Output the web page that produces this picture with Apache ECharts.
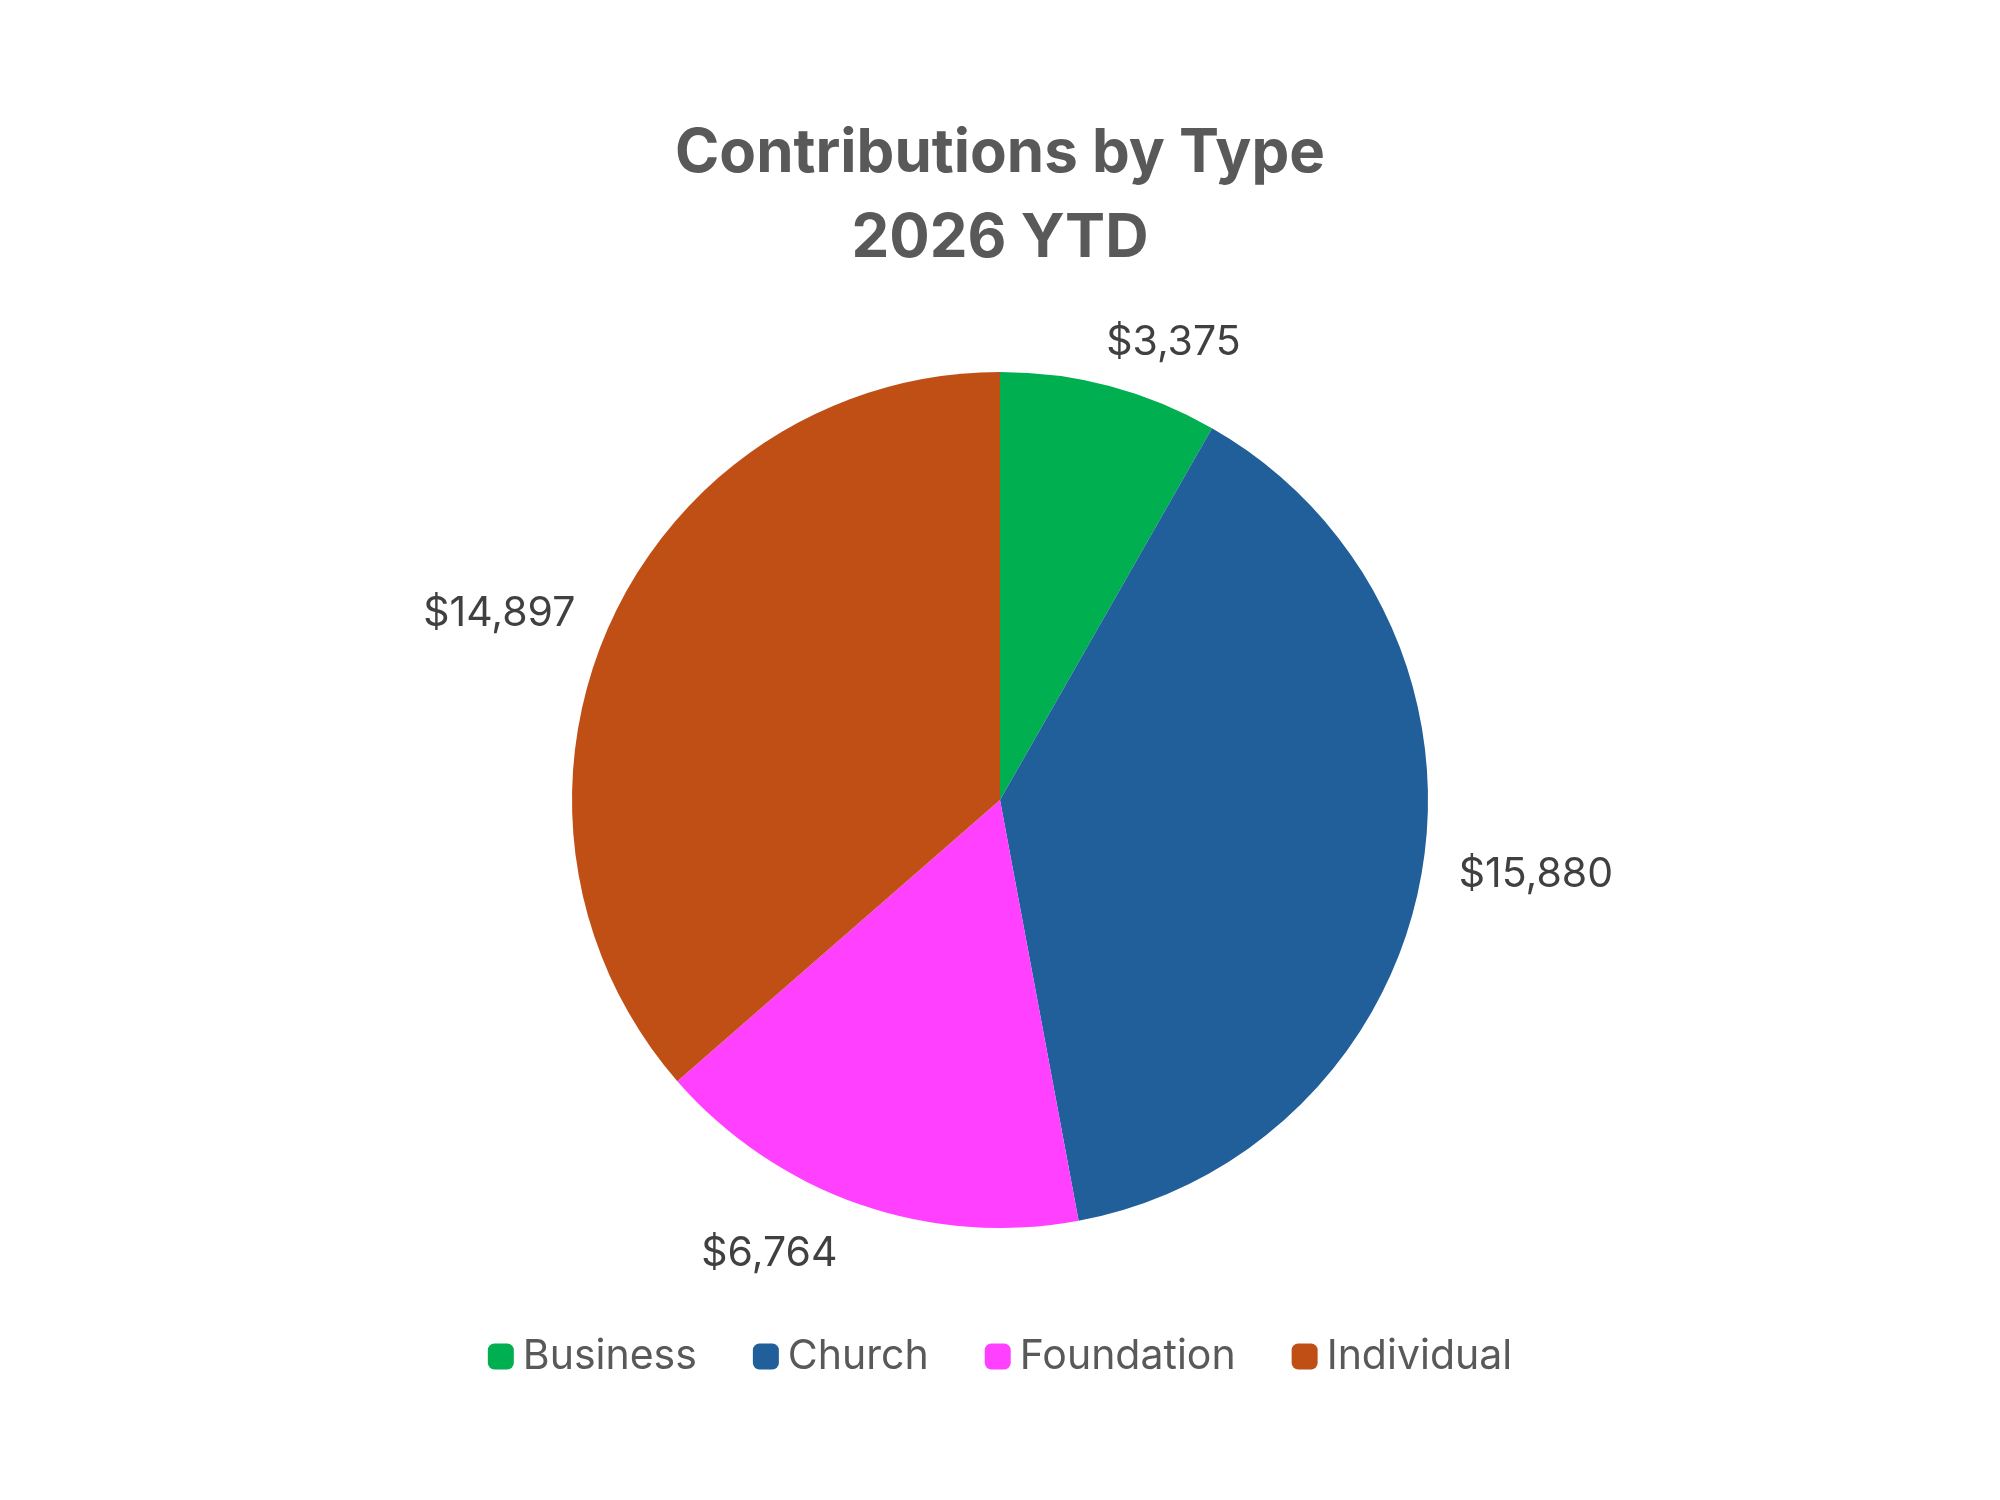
<!DOCTYPE html>
<html>
<head>
<meta charset="utf-8">
<title>Contributions by Type</title>
<script src="https://cdn.jsdelivr.net/npm/echarts@6/dist/echarts.min.js"></script>
<style>
  html, body { margin: 0; padding: 0; background: #ffffff; }
  #chart { width: 2000px; height: 1500px; }
</style>
</head>
<body>
<div id="chart"></div>
<script>
// data
const categories = ['Business', 'Church', 'Foundation', 'Individual'];
const amounts = [3375, 15880, 6764, 14897];
const colors = ['#00B050', '#215F9A', '#FF40FF', '#C04F15'];

const chart = echarts.init(document.getElementById('chart'));

const fontFamily = 'Inter, "Noto Sans", sans-serif';

// Excel's "best fit" pushes the top/bottom labels a bit further out
const leaderLen = [45, 22, 52, 22];
const leaderLen2 = [-20, 10, 0, 10];

chart.setOption({
  backgroundColor: '#ffffff',
  color: colors,
  title: {
    text: 'Contributions by Type\n2026 YTD',
    left: 'center',
    top: 106,
    textStyle: {
      fontFamily: fontFamily,
      fontSize: 60,
      fontWeight: 'bold',
      color: '#595959',
      lineHeight: 85
    }
  },
  legend: {
    data: categories,
    bottom: 118,
    left: 'center',
    itemWidth: 26,
    itemHeight: 26,
    itemGap: 56,
    icon: 'roundRect',
    textStyle: {
      fontFamily: fontFamily,
      fontSize: 41,
      color: '#595959',
      padding: [0, 0, 0, 4]
    }
  },
  series: [{
    type: 'pie',
    center: [1000, 800],
    radius: 428,
    startAngle: 90,
    clockwise: true,
    avoidLabelOverlap: false,
    data: categories.map((name, i) => ({
      name: name,
      value: amounts[i],
      labelLine: { length: leaderLen[i], length2: leaderLen2[i] }
    })),
    itemStyle: { borderWidth: 0 },
    label: {
      show: true,
      position: 'outside',
      fontFamily: fontFamily,
      fontSize: 41,
      color: '#404040',
      formatter: p => '$' + p.value.toLocaleString('en-US')
    },
    labelLine: { show: false, length: 22, length2: 10 },
    emphasis: { scale: false }
  }]
});
</script>
</body>
</html>
